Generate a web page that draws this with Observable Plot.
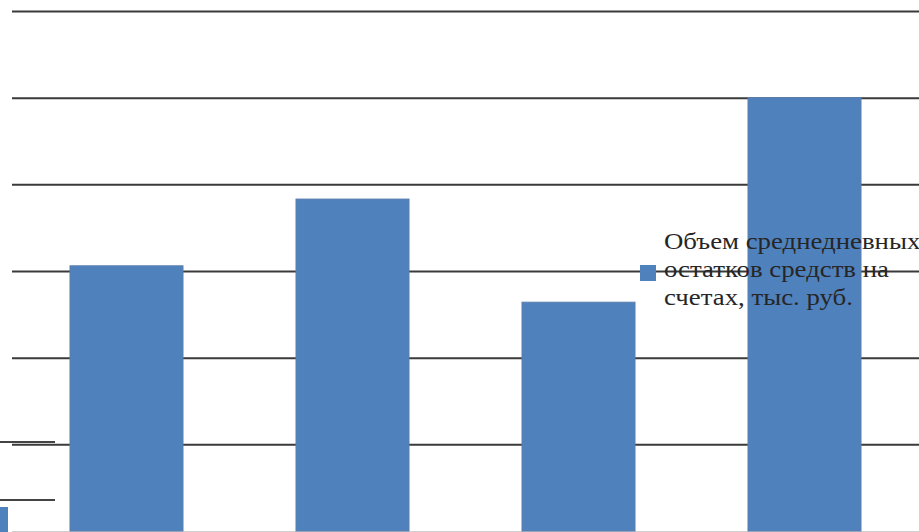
<!DOCTYPE html>
<html>
<head>
<meta charset="utf-8">
<script src="https://cdn.jsdelivr.net/npm/d3@7"></script>
<script src="https://cdn.jsdelivr.net/npm/@observablehq/plot@0.6"></script>
<style>
  html, body { margin: 0; padding: 0; background: #fff; }
  #wrap { position: relative; width: 919px; height: 532px; overflow: hidden; }
  #legend { position: absolute; left: 638px; top: 228px; font-family: "Liberation Serif", "DejaVu Serif", serif; font-size: 23px; line-height: 28px; color: #262626; white-space: nowrap; }
  #legend .sw { position: absolute; left: 2px; top: 37px; width: 16px; height: 16px; background: #4F81BD; }
  #legend .tx { margin-left: 26px; transform: scaleX(1.165); transform-origin: left top; }
  .frag { position: absolute; background: #444; height: 2px; }
</style>
</head>
<body>
<div id="wrap">
  <div id="chart"></div>
  <div class="frag" style="left:0;top:441px;width:55px;"></div>
  <div class="frag" style="left:0;top:499px;width:55px;"></div>
  <div style="position:absolute;left:0;top:507px;width:8px;height:25px;background:#4F81BD;"></div>
  <div id="legend"><div class="sw"></div><div class="tx">Объем среднедневных<br>остатков средств на<br>счетах, тыс. руб.</div></div>
</div>
<script>
const categories = ["2014", "2015", "2016", "2017"];
const values = [3.06, 3.83, 2.64, 5.0];
const gridTicks = [1, 2, 3, 4, 5, 6];
const seriesName = "Объем среднедневных остатков средств на счетах, тыс. руб.";

const data = categories.map((c, i) => ({category: c, value: values[i]}));

const chart = Plot.plot({
  width: 919,
  height: 532,
  marginTop: 11,
  marginBottom: 1,
  marginLeft: 12,
  marginRight: 0,
  x: {domain: categories, paddingInner: 0.5, paddingOuter: 0.25, axis: null},
  y: {domain: [0, 6], axis: null},
  marks: [
    Plot.ruleY(gridTicks, {stroke: "#3a3a3a", strokeWidth: 2}),
    Plot.ruleY([0], {stroke: "#cfcfcf", strokeWidth: 1}),
    Plot.barY(data, {x: "category", y: "value", fill: "#4F81BD", stroke: "#5b7fae", strokeWidth: 1, title: d => seriesName})
  ]
});
document.getElementById("chart").appendChild(chart);
</script>
</body>
</html>
